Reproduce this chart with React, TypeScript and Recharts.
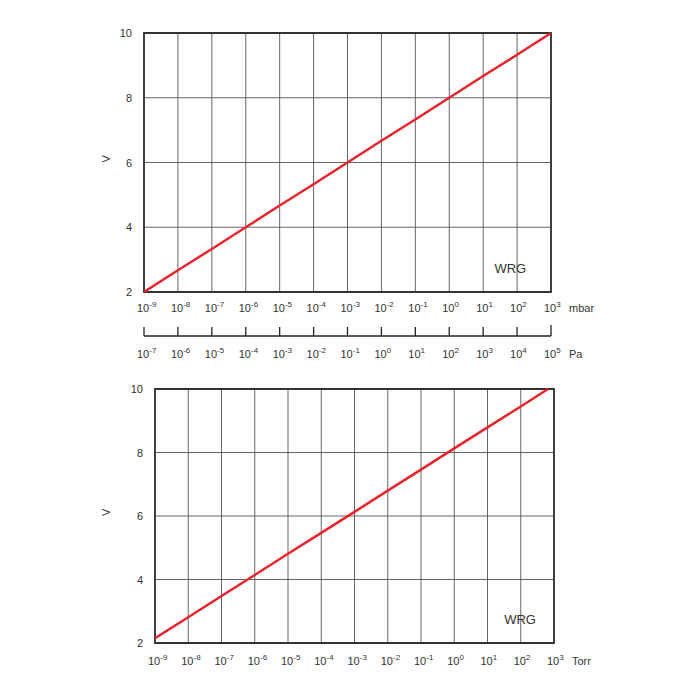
import React from 'react';
import {
  LineChart,
  Line,
  XAxis,
  YAxis,
  CartesianGrid,
  ReferenceArea,
  ReferenceDot,
} from 'recharts';

// decade exponents on the pressure axes
const decades = [-9, -8, -7, -6, -5, -4, -3, -2, -1, 0, 1, 2, 3];
const voltTicks = [2, 4, 6, 8, 10];

// mbar chart: output voltage per decade
const mbarExp = [-9, -8, -7, -6, -5, -4, -3, -2, -1, 0, 1, 2, 3];
const mbarVolts = [2, 2.67, 3.33, 4, 4.67, 5.33, 6, 6.67, 7.33, 8, 8.67, 9.33, 10];

// Torr chart
const torrExp = [-9, -8, -7, -6, -5, -4, -3, -2, -1, 0, 1, 2, 2.82];
const torrVolts = [2.15, 2.81, 3.48, 4.14, 4.81, 5.47, 6.13, 6.8, 7.46, 8.13, 8.79, 9.45, 10];

const mbarData = mbarExp.map((e, i) => ({ e, v: mbarVolts[i] }));
const torrData = torrExp.map((e, i) => ({ e, v: torrVolts[i] }));

const FONT = '"Liberation Sans", Arial, sans-serif';
const TXT = '#333';

const PowTick = (props: any) => {
  const { x, y, payload, shift = 0, unit, up, dy = 20 } = props;
  const exp = payload.value + shift;
  return (
    <g>
      {up && (
        <line x1={x} x2={x} y1={y - (payload.value === 3 ? 11 : 9)} y2={y} stroke="#222" strokeWidth={1.3} />
      )}
      <text x={x - 7} y={y + dy} textAnchor="start" fontSize={11} fill={TXT} fontFamily={FONT}>
        <tspan>10</tspan>
        <tspan dy={-5} fontSize={8}>{exp}</tspan>
      </text>
      {unit && payload.value === 3 && (
        <text x={x + 18} y={y + dy} fontSize={11} fill={TXT} fontFamily={FONT}>
          {unit}
        </text>
      )}
    </g>
  );
};

const YTick = (props: any) => {
  const { x, y, payload } = props;
  return (
    <text x={x - 4} y={y + 4} textAnchor="end" fontSize={11} fill={TXT} fontFamily={FONT}>
      {payload.value}
    </text>
  );
};

const grid = <CartesianGrid stroke="#555" strokeWidth={0.9} />;

export default function App() {
  return (
    <div style={{ position: 'absolute', left: 0, top: 0, width: 700, height: 700, background: '#fff' }}>
      <div style={{ position: 'absolute', left: 0, top: 0 }}>
        <LineChart width={700} height={380} data={mbarData} margin={{ top: 33, right: 149, left: 104, bottom: 14 }}>
          {grid}
          <XAxis
            dataKey="e"
            type="number"
            domain={[-9, 3]}
            ticks={decades}
            allowDataOverflow
            axisLine={false}
            tickLine={false}
            tickSize={0}
            tickMargin={0}
            height={44}
            interval={0}
            tick={(p: any) => <PowTick {...p} unit="mbar" dy={20} />}
          />
          <XAxis
            xAxisId="pa"
            dataKey="e"
            type="number"
            domain={[-9, 3]}
            ticks={decades}
            allowDataOverflow
            axisLine={{ stroke: '#222', strokeWidth: 1.5 }}
            tickLine={false}
            tickSize={0}
            tickMargin={0}
            height={30}
            interval={0}
            tick={(p: any) => <PowTick {...p} shift={2} unit="Pa" up dy={22} />}
          />
          <YAxis
            type="number"
            domain={[2, 10]}
            ticks={voltTicks}
            width={40}
            axisLine={false}
            tickLine={false}
            tick={(p: any) => <YTick {...p} />}
            label={{ value: 'V', angle: -90, position: 'insideLeft', offset: 2, style: { fontSize: 11, fill: TXT, fontFamily: FONT } }}
          />
          <ReferenceArea x1={-9} x2={3} y1={2} y2={10} fill="none" stroke="#333" strokeWidth={1.8} />
          <ReferenceDot
            x={1.8}
            y={2.74}
            r={0}
            stroke="none"
            label={{ value: 'WRG', position: 'center', style: { fontSize: 13, fill: TXT, fontFamily: FONT } }}
          />
          <Line type="linear" dataKey="v" stroke="#e8242d" strokeWidth={2.5} dot={false} isAnimationActive={false} />
        </LineChart>
      </div>
      <div style={{ position: 'absolute', left: 0, top: 350 }}>
        <LineChart width={700} height={350} data={torrData} margin={{ top: 39, right: 146, left: 115, bottom: 27 }}>
          {grid}
          <XAxis
            dataKey="e"
            type="number"
            domain={[-9, 3]}
            ticks={decades}
            allowDataOverflow
            axisLine={false}
            tickLine={false}
            tickSize={0}
            tickMargin={0}
            height={30}
            interval={0}
            tick={(p: any) => <PowTick {...p} unit="Torr" dy={22} />}
          />
          <YAxis
            type="number"
            domain={[2, 10]}
            ticks={voltTicks}
            width={40}
            axisLine={false}
            tickLine={false}
            tick={(p: any) => <YTick {...p} />}
            label={{ value: 'V', angle: -90, position: 'insideLeft', offset: -9, style: { fontSize: 11, fill: TXT, fontFamily: FONT } }}
          />
          <ReferenceArea x1={-9} x2={3} y1={2} y2={10} fill="none" stroke="#333" strokeWidth={1.8} />
          <ReferenceDot
            x={1.98}
            y={2.75}
            r={0}
            stroke="none"
            label={{ value: 'WRG', position: 'center', style: { fontSize: 13, fill: TXT, fontFamily: FONT } }}
          />
          <Line type="linear" dataKey="v" stroke="#e8242d" strokeWidth={2.5} dot={false} isAnimationActive={false} />
        </LineChart>
      </div>
    </div>
  );
}
